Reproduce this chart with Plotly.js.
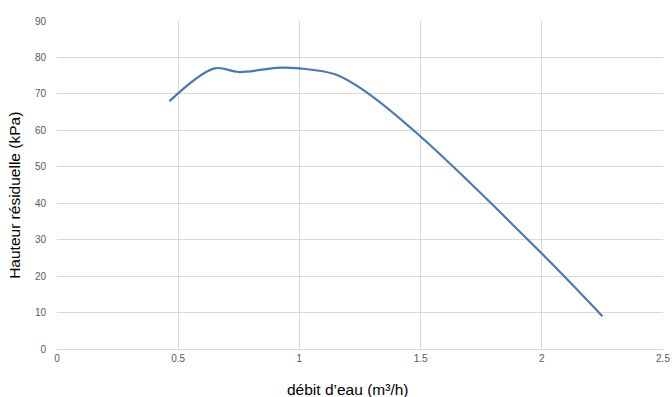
<!DOCTYPE html>
<html>
<head>
<meta charset="utf-8">
<script src="https://cdn.plot.ly/plotly-3.0.1.min.js"></script>
<style>html,body{margin:0;padding:0;background:#fff;}#chart{width:672px;height:397px;}</style>
</head>
<body>
<div id="chart"></div>
<script>
const debit = [0.464, 0.65, 0.75, 0.92, 1.0, 1.15, 1.28, 1.5, 2.0, 2.25];
const hauteur = [68.0, 77.0, 76.0, 77.2, 77.0, 75.3, 70.3, 58.3, 26.2, 9.0];
const xTicks = [0, 0.5, 1, 1.5, 2, 2.5];
const xTickText = ["0", "0.5", "1", "1.5", "2", "2.5"];
const yTicks = [0, 10, 20, 30, 40, 50, 60, 70, 80, 90];
const xTitle = "débit d’eau (m³/h)";
const yTitle = "Hauteur résiduelle (kPa)";

const trace = {
  x: debit, y: hauteur, type: 'scatter', mode: 'lines',
  line: {color: '#4a78b5', width: 2.2, shape: 'spline', smoothing: 1},
  hoverinfo: 'skip'
};
const tickFont = {family: 'Liberation Sans, Arial, sans-serif', size: 10, color: '#595959'};
const titleFont = {family: 'Liberation Sans, Arial, sans-serif', size: 15.5, color: '#000'};
const layout = {
  width: 672, height: 397,
  margin: {l: 57, r: 9, t: 20.5, b: 48.2},
  paper_bgcolor: '#fff', plot_bgcolor: '#fff',
  showlegend: false,
  xaxis: {
    range: [0, 2.5], tickvals: xTicks, ticktext: xTickText,
    showgrid: true, gridcolor: '#d9d9d9', gridwidth: 1,
    zeroline: false, showline: true, linecolor: '#d9d9d9', linewidth: 1,
    ticks: '', ticklen: 0, tickfont: tickFont, fixedrange: true
  },
  yaxis: {
    range: [0, 90], tickvals: yTicks,
    showgrid: true, gridcolor: '#d9d9d9', gridwidth: 1,
    zeroline: false, showline: false,
    ticks: 'outside', ticklen: 8, tickcolor: 'rgba(0,0,0,0)', tickfont: tickFont, fixedrange: true
  },
  annotations: [
    {text: xTitle, xref: 'paper', yref: 'paper', x: (347 - 57) / 606, y: -(389.5 - 348.8) / 328.3,
     xanchor: 'center', yanchor: 'middle', showarrow: false, font: titleFont},
    {text: yTitle, xref: 'paper', yref: 'paper', x: (15 - 57) / 606, y: (348.8 - 195.5) / 328.3,
     xanchor: 'center', yanchor: 'middle', showarrow: false, textangle: -90, font: titleFont}
  ]
};
Plotly.newPlot('chart', [trace], layout, {displayModeBar: false, staticPlot: true});
</script>
</body>
</html>
